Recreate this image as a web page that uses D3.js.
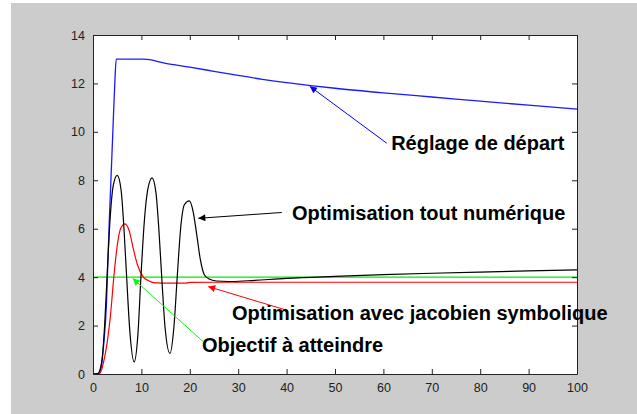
<!DOCTYPE html>
<html><head><meta charset="utf-8">
<script src="https://cdn.jsdelivr.net/npm/d3@7"></script>
<style>html,body{margin:0;padding:0;background:#fff;}svg{display:block;}</style>
</head><body>
<svg id="chart" width="637" height="414"></svg>
<script>
// ---- data ----
const xTicks = [0,10,20,30,40,50,60,70,80,90,100];
const yTicks = [0,2,4,6,8,10,12,14];

const blueX = [0,1,1.6,2.2,2.8,3.05,3.4,3.7,4.1,4.5,4.8,10.5,15,20,25,30,35,40,45,50,60,70,80,90,100];
const blueY = [0,0.02,0.2,1.2,3.0,4.5,6.5,8,10,12,13,13,12.83,12.67,12.5,12.33,12.17,12.03,11.91,11.8,11.61,11.44,11.27,11.1,10.94];

const blackX = [0,1,1.8,2.4,2.9,3.5,4.2,5,5.8,6.4,6.95,7.6,8.5,9.3,9.9,10.6,11.3,12.2,13.0,13.6,14.2,14.9,15.9,16.7,17.4,18.1,18.9,19.9,20.7,21.4,22.2,23,24,25.5,28,32,40,50,60,70,80,90,100];
const blackY = [0,0.02,0.5,2,4,6.3,7.8,8.2,7.6,6,4,1.8,0.5,1.7,4,6.3,7.6,8.1,7.5,6,4,1.9,0.85,1.9,4,6,7,7.15,6.7,5.8,4.7,4.1,3.92,3.84,3.82,3.85,3.95,4.03,4.1,4.16,4.21,4.26,4.3];

const redX = [0,1,1.5,2.2,3,3.6,4.3,5,5.8,6.6,7.5,8.3,9.2,10.4,11.5,12.5,14,19,20,25,100];
const redY = [0,0,0.05,0.5,1.4,2.4,4,5.3,6.05,6.2,5.9,5.2,4.5,4,3.85,3.77,3.75,3.75,3.78,3.79,3.79];

const targetX = [0,100];
const targetY = [4,4];

const labels = ["Réglage de départ","Optimisation tout numérique","Optimisation avec jacobien symbolique","Objectif à atteindre"];
const labelColors = ["#0000ff","#000000","#ff0000","#00ff00"];
const labelX = [61.6,41.1,28.7,22.5];
const labelY = [9.26,6.34,2.21,0.91];
const arrowFromX = [60.7,39.0,39.9,22.8];
const arrowFromY = [9.53,6.67,2.64,1.33];
const arrowToX = [44.8,21.76,23.8,8.2];
const arrowToY = [11.88,6.43,3.61,3.95];

// ---- drawing ----
const svg = d3.select("#chart");
const W = 637, H = 414;
const m = {left:93, top:35, right:577, bottom:374};

svg.append("rect").attr("x",0).attr("y",0).attr("width",W).attr("height",H).attr("fill","#ffffff");
svg.append("rect").attr("x",11).attr("y",3).attr("width",W-11).attr("height",H-3).attr("fill","#cccccc");

const x = d3.scaleLinear().domain([0,100]).range([m.left,m.right]);
const y = d3.scaleLinear().domain([0,14]).range([m.bottom,m.top]);

svg.append("rect").attr("x",m.left).attr("y",m.top)
  .attr("width",m.right-m.left).attr("height",m.bottom-m.top).attr("fill","#ffffff");

const defs = svg.append("defs");
labelColors.forEach((c,i)=>{
  defs.append("marker").attr("id","ah"+i).attr("viewBox","0 0 10 10")
    .attr("refX",10).attr("refY",5).attr("markerWidth",9).attr("markerHeight",7)
    .attr("markerUnits","userSpaceOnUse").attr("orient","auto")
    .append("path").attr("d","M0,0L10,5L0,10Z").attr("fill",c);
});

const line = (cx, cy, curve) => d3.line().x((d,i)=>x(cx[i])).y((d,i)=>y(cy[i])).curve(curve)(cx);

const plot = svg.append("g");
plot.append("path").attr("d", line(targetX,targetY,d3.curveLinear)).attr("fill","none").attr("stroke","#00ee00").attr("stroke-width",1.2);
plot.append("path").attr("d", line(blueX,blueY,d3.curveMonotoneX)).attr("fill","none").attr("stroke","#1a1aff").attr("stroke-width",1.3);
plot.append("path").attr("d", line(redX,redY,d3.curveMonotoneX)).attr("fill","none").attr("stroke","#ff0000").attr("stroke-width",1.2);
plot.append("path").attr("d", line(blackX,blackY,d3.curveMonotoneX)).attr("fill","none").attr("stroke","#000000").attr("stroke-width",1.2);

// axes frame
const xAxisB = d3.axisBottom(x).tickValues(xTicks).tickSizeInner(-5).tickSizeOuter(0).tickPadding(9);
const xAxisT = d3.axisTop(x).tickValues(xTicks).tickSizeInner(-5).tickSizeOuter(0).tickFormat("");
const yAxisL = d3.axisLeft(y).tickValues(yTicks).tickSizeInner(-5).tickSizeOuter(0).tickPadding(8);
const yAxisR = d3.axisRight(y).tickValues(yTicks).tickSizeInner(-5).tickSizeOuter(0).tickFormat("");

function styleAxis(g){
  g.selectAll("path.domain").attr("stroke","#222").attr("stroke-width",1);
  g.selectAll(".tick line").attr("stroke","#222");
  g.selectAll(".tick text").attr("fill","#222").attr("font-family","'Liberation Sans', Arial, sans-serif").attr("font-size",12.5);
}
svg.append("g").attr("transform",`translate(0,${m.bottom})`).call(xAxisB).call(styleAxis);
svg.append("g").attr("transform",`translate(0,${m.top})`).call(xAxisT).call(styleAxis);
svg.append("g").attr("transform",`translate(${m.left},0)`).call(yAxisL).call(styleAxis);
svg.append("g").attr("transform",`translate(${m.right},0)`).call(yAxisR).call(styleAxis);

// annotations
const ann = svg.append("g");
labels.forEach((t,i)=>{
  ann.append("line")
    .attr("x1",x(arrowFromX[i])).attr("y1",y(arrowFromY[i]))
    .attr("x2",x(arrowToX[i])).attr("y2",y(arrowToY[i]))
    .attr("stroke",labelColors[i]).attr("stroke-width",1)
    .attr("marker-end",`url(#ah${i})`);
  ann.append("text").attr("x",x(labelX[i])).attr("y",y(labelY[i]))
    .attr("font-family","'Liberation Sans', Arial, sans-serif").attr("font-weight","bold")
    .attr("font-size",20).attr("fill","#000").text(t);
});
</script>
</body></html>
